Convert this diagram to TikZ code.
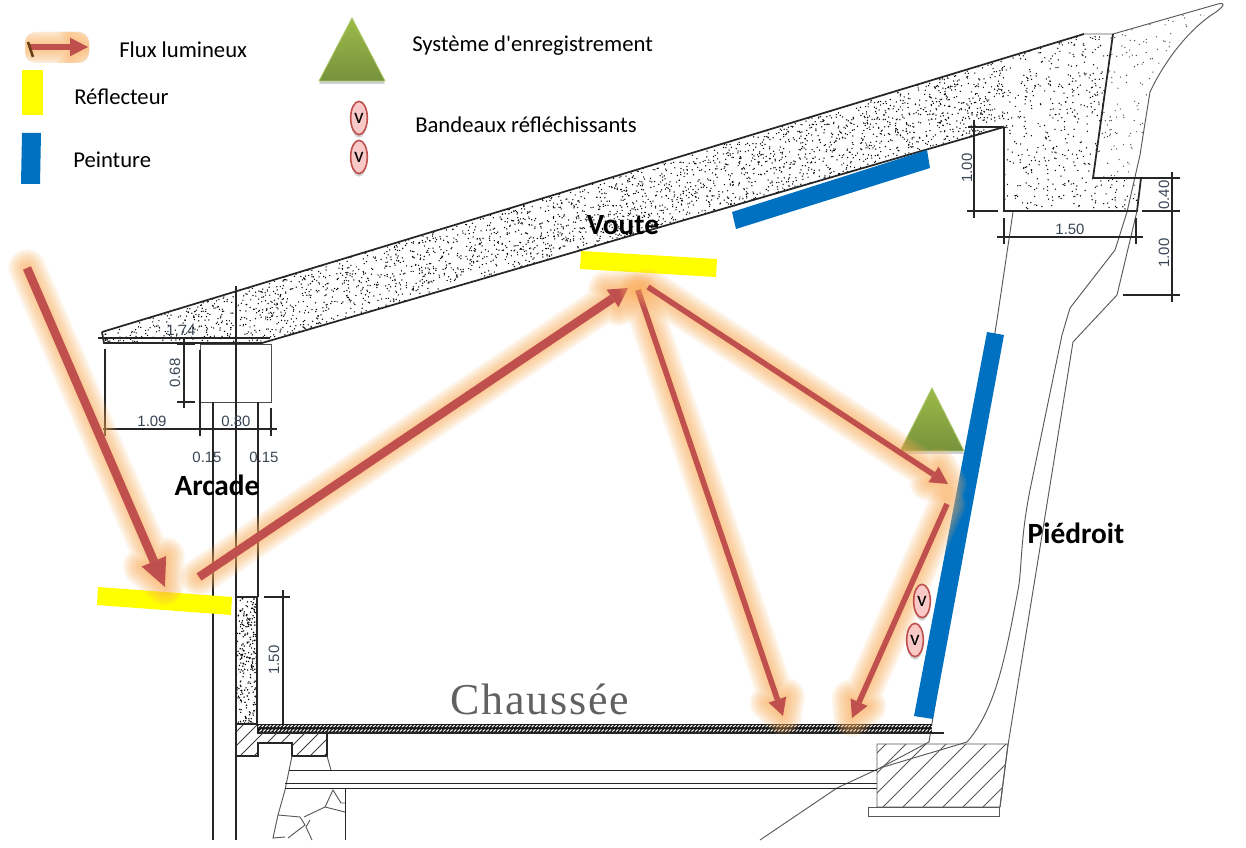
\documentclass[tikz,border=0pt]{standalone}
\usepackage{fontspec}
\setmainfont{Carlito}
\newfontfamily\plainfont{Carlito}
\newfontfamily\dimfont{Liberation Sans}
\newfontfamily\roadfont[LetterSpace=4]{Liberation Serif}
\usetikzlibrary{calc,shapes.geometric}
\definecolor{fluxred}{HTML}{C0504D}
\definecolor{fluxglow}{HTML}{FBAE5A}
\definecolor{paintblue}{HTML}{0070C0}
\definecolor{reflyellow}{HTML}{FFFF00}
\definecolor{dimtxt}{HTML}{3A4654}
\definecolor{greentop}{HTML}{9BBB49}
\definecolor{greenbot}{HTML}{76923C}
\definecolor{ovalfill}{HTML}{F9C9C8}
\definecolor{tailbrown}{HTML}{6B3F14}
\tikzset{
  cad/.style={draw=black!85,line width=0.9pt},
  thin cad/.style={draw=black!65,line width=0.7pt},
  thick cad/.style={draw=black!85,line width=1.3pt},
  dimlabel/.style={font=\dimfont\fontsize{11.2}{13}\selectfont,text=dimtxt,inner sep=0pt},
  dimlabelv/.style={dimlabel,rotate=90},
  legendtext/.style={font=\plainfont\fontsize{17}{20}\selectfont,text=black,inner sep=0pt,anchor=west},
  zonetext/.style={font=\bfseries\fontsize{22}{24}\selectfont,text=black,inner sep=0pt},
  ovalmark/.style={ellipse,draw=fluxred,line width=1.2pt,fill=ovalfill,minimum width=12.5pt,minimum height=25pt,inner sep=0pt,font=\fontsize{16}{16}\selectfont},
}
\newcommand{\flowarrow}[5]{%
  \coordinate (hb) at ($(#2)!#3!(#1)$);
  \coordinate (h1) at ($(hb)!#4!90:(#2)$);
  \coordinate (h2) at ($(hb)!#4!-90:(#2)$);
  \foreach \g in {28,25,22,19,16,13,10,7,4}{%
    \draw[fluxglow,opacity=.11,line width=\g pt,line cap=round,line join=round]
      (#1) -- (hb) (h1) -- (#2) -- (h2) -- cycle;
  }
  \draw[fluxred,line width=#5] (#1) -- (hb);
  \fill[fluxred] (h1) -- (#2) -- (h2) -- cycle;
}
\newcommand{\greentri}[3]{%
  \fill[black,opacity=.18] ($(#1)+(0,3)$) -- ($(#3)+(0,3)$) -- ($(#2)+(0,3)$) -- cycle;
  \shade[top color=greentop,bottom color=greenbot,draw=greentop!85!white,line width=.6pt] (#1) -- (#2) -- (#3) -- cycle;
}
\begin{document}
\begin{tikzpicture}[x=0.75pt,y=-0.75pt]
\useasboundingbox (0,0) rectangle (1246,848);
\fill[white] (0,0) rectangle (1246,848);
\pgfmathsetseed{4217}

%% stippled concrete: roof and abutment
\begin{scope}
  \clip (102,332) -- (1084,34) -- (1113,34) -- (1093,178) -- (1141,178) -- (1137,211) -- (1004,211) -- (1004,127) -- (262,343) -- (104,343) -- cycle;
  \foreach \i in {1,...,3400}{
    \pgfmathsetmacro\rx{100+904*rnd}
    \pgfmathsetmacro\ry{332-0.3035*(\rx-102)+72*rnd}
    \fill[black] (\rx,\ry) circle (0.55pt);
  }
  \foreach \i in {1,...,620}{
    \pgfmathsetmacro\rx{1000+142*rnd}
    \pgfmathsetmacro\ry{30+182*rnd}
    \fill[black] (\rx,\ry) circle (0.55pt);
  }
\end{scope}
\begin{scope}
  \clip (1113,34) -- (1220,3) -- (1190,28) -- (1160,70) -- (1147,100) -- (1145,123) -- (1140,155) -- (1127,212) -- (1137,211) -- (1141,178) -- (1093,178) -- cycle;
  \foreach \i in {1,...,340}{
    \pgfmathsetmacro\rx{1090+130*rnd}
    \pgfmathsetmacro\ry{3+209*rnd}
    \fill[black!75] (\rx,\ry) circle (0.5pt);
  }
\end{scope}
\begin{scope}
  \clip (236,597) rectangle (257,724);
  \foreach \i in {1,...,260}{
    \pgfmathsetmacro\rx{236+21*rnd}
    \pgfmathsetmacro\ry{597+127*rnd}
    \fill[black] (\rx,\ry) circle (0.6pt);
  }
\end{scope}

%% roof outline
\draw[thick cad] (102,332) -- (1084,34);
\draw[thin cad] (1084,34) -- (1113,34) -- (1218,4) .. controls (1226,2) and (1224,6) .. (1216,12) .. controls (1190,28) and (1165,60) .. (1150,92) -- (1145,123) -- (1140,155) -- (1127,212) -- (1115,250) -- (1070,308) -- (1062,335) -- (1030,490) .. controls (1020,540) and (1022,570) .. (1018,590) .. controls (1005,660) and (995,710) .. (967,742) -- (880,768) -- (837,788) -- (760,840);
\draw[thick cad] (1113,34) -- (1093,178) -- (1180,178);
\draw[thick cad] (1004,127) -- (1004,211) -- (1137,211) -- (1141,178);
\draw[thick cad] (1004,127) -- (262,343) -- (104,343) -- (102,332);
\draw[thin cad] (1137,211) -- (1117,295) -- (1073,342) -- (1038,560) -- (1008,745) -- (1000,807);
\draw[thin cad] (1013,212) -- (997,320) -- (933,717) -- (929,742) -- (880,768);

%% arcade box and dimensions
\draw[thin cad,draw=black!70] (200,344) rectangle (271,402);
\draw[cad] (98,338) -- (270,338);
\draw[cad] (184,338) -- (184,408) (177,344) -- (195,344) (177,402) -- (195,402);
\draw[cad] (103,429) -- (277,429) (105,349) -- (105,436) (200,350) -- (200,436) (271,408) -- (271,436);
\draw[cad] (236,286) -- (236,840);
\draw[cad] (213,402) -- (213,840);
\draw[cad] (258,402) -- (258,597);
\draw[thick cad] (236,597) -- (257,597) -- (257,724);
\node[dimlabel] (d174) at (181,330) {1.74};
\node[dimlabelv] (d068) at (175,373) {0.68};
\node[dimlabel] (d109) at (152,421) {1.09};
\node[dimlabel] (d080) at (236,421) {0.80};
\node[dimlabel] (d015a) at (207,457) {0.15};
\node[dimlabel] (d015b) at (264,457) {0.15};

%% abutment dimensions
\draw[cad] (974,120) -- (974,218) (968,127) -- (1004,127) (967,211) -- (998,211);
\draw[cad] (997,237) -- (1143,237) (1004,218) -- (1004,244) (1136,218) -- (1136,244);
\draw[cad] (1172,172) -- (1172,302) (1142,211) -- (1180,211) (1123,295) -- (1180,295);
\node[dimlabelv] (d100a) at (967,168) {1.00};
\node[dimlabel] (d150a) at (1070,229) {1.50};
\node[dimlabelv] (d040) at (1164,195) {0.40};
\node[dimlabelv] (d100b) at (1164,253) {1.00};

%% low wall dimension
\draw[cad] (283,590) -- (283,724) (264,597) -- (290,597);
\node[dimlabelv] (d150b) at (274,660) {1.50};

%% road deck
\fill[black!90] (257,724) rectangle (932,733);
\begin{scope}
  \clip (257,725) rectangle (932,732);
  \foreach \k in {258,261.6,...,932}{
    \draw[white,line width=.75pt] (\k,727) -- (\k+2.4,725);
    \draw[white,line width=.75pt] (\k+1.5,731.5) -- (\k+3.9,729.5);
  }
\end{scope}
\draw[cad] (236,724) -- (257,724) (257,733) -- (944,733);

%% deck seat on the left
\begin{scope}
  \clip (236,725) -- (236,756) -- (258,756) -- (258,743) -- (292,743) -- (292,756) -- (327,756) -- (327,733) -- (257,733) -- (257,725) -- cycle;
  \foreach \k in {180,194,...,340}{
    \draw[black!75,line width=.7pt] (\k,760) -- (\k+40,720);
  }
\end{scope}
\draw[cad] (236,724) -- (236,756) -- (258,756) -- (258,743) -- (292,743) -- (292,756) -- (327,756) -- (327,733);
\draw[thin cad] (292,756) -- (285,790) -- (278,815) -- (273,838) -- (285,837);
\draw[thin cad] (327,756) -- (331,770);
\draw[thin cad] (278,815) -- (300,817) -- (305,825) -- (288,838);
\draw[thin cad] (304,817) -- (325,807) -- (345,812);
\draw[thin cad] (325,807) -- (333,790) -- (341,803) -- (345,803);
\draw[thin cad] (310,820) -- (306,827) -- (312,840);
\draw[thin cad,draw=black!85] (345,788) -- (345,840);
\draw[thin cad,draw=black!85] (289,770) -- (877,770) (285,783) -- (877,783) (285,788) -- (877,788);

%% right foundation block
\begin{scope}
  \clip (877,744) -- (1008,744) -- (1000,807) -- (877,807) -- cycle;
  \foreach \k in {820,840,...,1010}{
    \draw[black!65,line width=.7pt] (\k,810) -- (\k+70,740);
  }
\end{scope}
\draw[thin cad] (877,744) -- (1008,744) -- (1000,807) -- (877,807) -- cycle;
\draw[thin cad] (868,807) rectangle (999,816);

%% road label
\node[inner sep=0pt,text=black!62,font=\roadfont\fontsize{33}{36}\selectfont] (road) at (540,699) {Chaussée};

%% reflectors and paint
\fill[reflyellow] (98,587) -- (232,597) -- (231,615) -- (97,605) -- cycle;
\fill[reflyellow] (581,251) -- (717,259) -- (716,277) -- (580,269) -- cycle;
\fill[paintblue] (732,212) -- (927,150) -- (930,168) -- (736,229) -- cycle;
\fill[paintblue] (987,332) -- (1004,335) -- (933,719) -- (914,716) -- cycle;

%% green sensor on the wall
\coordinate (sa) at (932,388);
\coordinate (sb) at (900,451);
\coordinate (sc) at (964,451);
\greentri{sa}{sb}{sc}

%% light rays
\coordinate (r1a) at (27,268);   \coordinate (r1b) at (165,587);
\coordinate (r2a) at (199,577);  \coordinate (r2b) at (628,288);
\coordinate (r3a) at (638,290);  \coordinate (r3b) at (783,716);
\coordinate (r4a) at (648,287);  \coordinate (r4b) at (948,484);
\coordinate (r5a) at (947,504);  \coordinate (r5b) at (852,718);
\flowarrow{r1a}{r1b}{21pt}{10pt}{6.5pt}
\flowarrow{r2a}{r2b}{14pt}{8pt}{6.5pt}
\flowarrow{r3a}{r3b}{13pt}{7pt}{4.2pt}
\flowarrow{r4a}{r4b}{13pt}{7pt}{4.2pt}
\flowarrow{r5a}{r5b}{13pt}{7pt}{4.2pt}

%% reflective strips on the wall
\fill[black,opacity=.18] (922,604) ellipse (6.2pt and 12.5pt);
\fill[black,opacity=.18] (915,643) ellipse (6.2pt and 12.5pt);
\node[ovalmark] (v3) at (922,601) {v};
\node[ovalmark] (v4) at (915,640) {v};

%% zone names
\node[zonetext] (voute) at (623,225) {Voute};
\node[zonetext] (arcade) at (217,485) {Arcade};
\node[zonetext] (piedroit) at (1076,533) {Piédroit};

%% legend
\begin{scope}
  \clip[rounded corners=8pt] (25,32) rectangle (89,63);
  \coordinate (lga) at (30,47);
  \coordinate (lgb) at (88,47);
  \flowarrow{lga}{lgb}{13.5pt}{7pt}{4.5pt}
\end{scope}
\draw[tailbrown,line width=2pt] (28,42) -- (33,57);
\fill[reflyellow] (22,70) rectangle (43,115);
\fill[paintblue] (22,133) -- (41,133) -- (40,184) -- (21,184) -- cycle;
\coordinate (la) at (352,18);
\coordinate (lb) at (319,81);
\coordinate (lc) at (385,81);
\greentri{la}{lb}{lc}
\fill[black,opacity=.18] (359,121) ellipse (6pt and 12.5pt);
\fill[black,opacity=.18] (359,160) ellipse (6pt and 12.5pt);
\node[ovalmark] (v1) at (359,118) {v};
\node[ovalmark] (v2) at (359,157) {v};
\node[legendtext] (t1) at (119,50) {Flux lumineux};
\node[legendtext] (t2) at (74,97) {Réflecteur};
\node[legendtext] (t3) at (73,160) {Peinture};
\node[legendtext] (t4) at (412,46) {Système d'enregistrement};
\node[legendtext] (t5) at (415,125) {Bandeaux réfléchissants};
\end{tikzpicture}
\end{document}
